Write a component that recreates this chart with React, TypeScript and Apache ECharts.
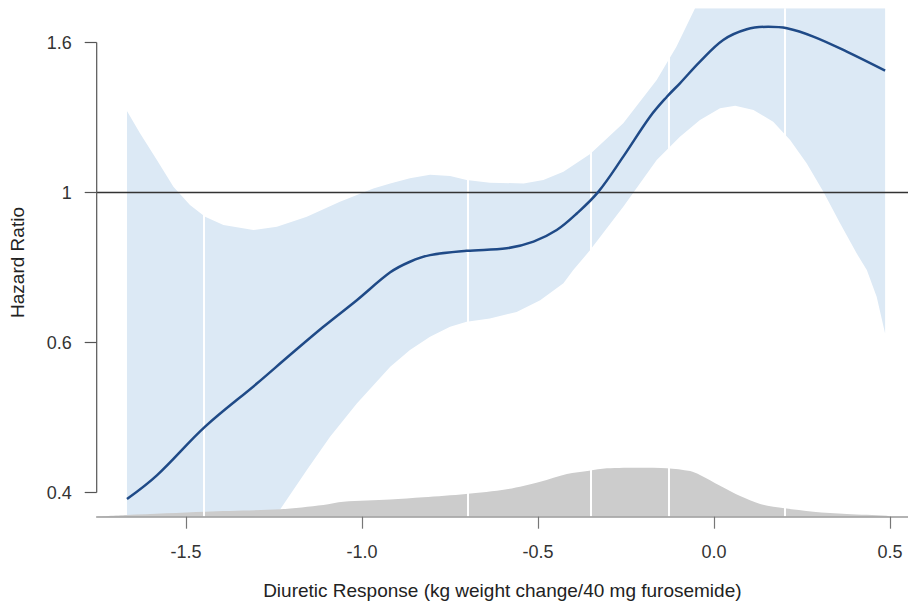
import React, { useEffect, useRef } from "react";
import * as echarts from "echarts";

// ---- axis ticks ----
const Y_TICKS = [0.4, 0.6, 1, 1.6];
const X_TICKS = [-1.5, -1.0, -0.5, 0.0, 0.5];
const X_MIN = -1.754;
const X_MAX = 0.551;
const Y_MIN_POS = -0.161;
const Y_MAX_POS = 3.228;
const REF_HR = 1;

// ---- fitted hazard ratio curve ----
const curveX = [-1.668, -1.583, -1.446, -1.299, -1.205, -1.110, -1.015, -0.920, -0.864, -0.807, -0.703, -0.589, -0.513, -0.447, -0.390, -0.329, -0.258, -0.182, -0.134, -0.097, -0.040, 0.026, 0.093, 0.154, 0.207, 0.282, 0.377, 0.486];
const curveHR = [0.393, 0.419, 0.478, 0.537, 0.580, 0.633, 0.693, 0.762, 0.790, 0.808, 0.820, 0.827, 0.846, 0.880, 0.931, 1.002, 1.119, 1.268, 1.350, 1.408, 1.507, 1.613, 1.668, 1.681, 1.673, 1.630, 1.555, 1.465];

// ---- confidence band ----
const upperX = [-1.668, -1.631, -1.583, -1.536, -1.489, -1.446, -1.394, -1.309, -1.242, -1.157, -1.063, -0.968, -0.920, -0.864, -0.807, -0.750, -0.703, -0.637, -0.541, -0.485, -0.428, -0.352, -0.258, -0.163, -0.107, -0.054, 0.0, 0.1, 0.2, 0.3, 0.4, 0.486];
const upperHR = [1.291, 1.204, 1.107, 1.018, 0.958, 0.921, 0.895, 0.880, 0.890, 0.921, 0.969, 1.013, 1.029, 1.046, 1.057, 1.053, 1.040, 1.031, 1.029, 1.040, 1.067, 1.128, 1.242, 1.423, 1.579, 1.781, 2.02, 2.44, 2.81, 3.24, 3.73, 4.29];
const lowerX = [-1.668, -1.583, -1.446, -1.309, -1.233, -1.157, -1.091, -1.015, -0.920, -0.864, -0.807, -0.750, -0.703, -0.637, -0.561, -0.494, -0.428, -0.400, -0.352, -0.258, -0.163, -0.097, -0.040, 0.017, 0.060, 0.112, 0.168, 0.216, 0.263, 0.311, 0.358, 0.405, 0.434, 0.462, 0.486];
const lowerHR = [0.180, 0.212, 0.271, 0.340, 0.382, 0.425, 0.465, 0.509, 0.562, 0.588, 0.612, 0.633, 0.644, 0.651, 0.666, 0.693, 0.734, 0.768, 0.822, 0.953, 1.107, 1.191, 1.255, 1.302, 1.312, 1.295, 1.248, 1.179, 1.096, 1.002, 0.901, 0.813, 0.768, 0.701, 0.619];

// ---- distribution of diuretic response (relative density) ----
const densityX = [-1.754, -1.668, -1.446, -1.233, -1.110, -1.053, -0.920, -0.826, -0.705, -0.589, -0.494, -0.418, -0.355, -0.305, -0.210, -0.134, -0.068, -0.040, 0.017, 0.074, 0.131, 0.200, 0.282, 0.377, 0.491, 0.500];
const densityValue = [0, 0.035, 0.102, 0.151, 0.239, 0.306, 0.351, 0.396, 0.463, 0.559, 0.714, 0.871, 0.939, 0.988, 1.0, 0.988, 0.93, 0.85, 0.63, 0.42, 0.26, 0.171, 0.102, 0.055, 0.020, 0];
const DENSITY_AXIS_MAX = 10.37;

// ---- quantile markers ----
const QUANTILES = [-1.446, -0.705, -0.355, -0.134, 0.202];

const FONT = "'Liberation Sans', Arial, Helvetica, sans-serif";

// piecewise log mapping onto evenly spaced tick positions
const LOG_TICKS = Y_TICKS.map((t) => Math.log(t));
function hrToPos(h: number): number {
  const L = Math.log(h);
  const i = L < LOG_TICKS[1] ? 0 : L < LOG_TICKS[2] ? 1 : 2;
  return i + (L - LOG_TICKS[i]) / (LOG_TICKS[i + 1] - LOG_TICKS[i]);
}

export default function App() {
  const ref = useRef<HTMLDivElement>(null);

  useEffect(() => {
    document.body.style.margin = "0";
    const el = ref.current!;
    const chart = echarts.init(el, null, { renderer: "svg" });

    const tickPos = Y_TICKS.map(hrToPos);
    const curve = curveX.map((x, i) => [x, hrToPos(curveHR[i])]);
    const band: number[][] = [
      ...upperX.map((x, i) => [x, hrToPos(upperHR[i])]),
      ...lowerX.map((x, i) => [x, hrToPos(lowerHR[i])]).reverse(),
    ];
    const density = densityX.map((x, i) => [x, densityValue[i]]);
    const refPos = hrToPos(REF_HR);

    const option: any = {
      animation: false,
      backgroundColor: "#ffffff",
      grid: {
        left: 96.7,
        right: 0,
        top: 8.3,
        bottom: 97.3,
        containLabel: false,
        outerBoundsMode: "none",
      },
      xAxis: {
        type: "value",
        min: X_MIN,
        max: X_MAX,
        z: 4,
        name: "Diuretic Response (kg weight change/40 mg furosemide)",
        nameLocation: "middle",
        nameGap: 64,
        nameTextStyle: { fontSize: 19, color: "#222", fontFamily: FONT },
        axisLine: { show: true, onZero: false, lineStyle: { color: "#9a9a9a", width: 1.5 } },
        axisTick: { show: true, length: 12, customValues: X_TICKS, lineStyle: { color: "#777", width: 1.2 } },
        axisLabel: {
          show: true,
          margin: 26,
          fontSize: 18,
          color: "#333",
          fontFamily: FONT,
          customValues: X_TICKS,
          formatter: (v: number) => v.toFixed(1),
        },
        splitLine: { show: false },
      },
      yAxis: [
        {
          type: "value",
          position: "left",
          min: Y_MIN_POS,
          max: Y_MAX_POS,
          name: "Hazard Ratio",
          nameLocation: "middle",
          nameGap: 70,
          nameTextStyle: { fontSize: 19, color: "#222", fontFamily: FONT },
          axisLine: { show: false, onZero: false },
          axisTick: { show: true, length: 12, customValues: tickPos, lineStyle: { color: "#555", width: 1.2 } },
          axisLabel: {
            show: true,
            margin: 25,
            fontSize: 18,
            color: "#333",
            fontFamily: FONT,
            customValues: tickPos,
            formatter: (v: number) => {
              let best = 0;
              tickPos.forEach((p, i) => {
                if (Math.abs(p - v) < Math.abs(tickPos[best] - v)) best = i;
              });
              return String(Y_TICKS[best]);
            },
          },
          splitLine: { show: false },
        },
        { type: "value", min: 0, max: DENSITY_AXIS_MAX, show: false },
      ],
      series: [
        {
          type: "custom",
          name: "95% CI",
          coordinateSystem: "cartesian2d",
          xAxisIndex: 0,
          yAxisIndex: 0,
          silent: true,
          z: 1,
          clip: true,
          data: band,
          encode: { x: 0, y: 1 },
          renderItem: (params: any, api: any) => {
            if (params.dataIndex !== 0) return null;
            const cs = params.coordSys;
            const pts = band.map((p) => api.coord(p));
            const clipped = echarts.graphic.clipPointsByRect(pts, {
              x: cs.x,
              y: cs.y,
              width: cs.width,
              height: cs.height,
            });
            return {
              type: "polygon",
              shape: { points: clipped },
              style: { fill: "#dce9f5", stroke: null },
            };
          },
        },
        {
          type: "line",
          name: "Density",
          xAxisIndex: 0,
          yAxisIndex: 1,
          data: density,
          smooth: 0.3,
          symbol: "none",
          silent: true,
          z: 2,
          lineStyle: { width: 0, color: "#cccccc" },
          areaStyle: { color: "#cccccc", opacity: 1 },
          markLine: {
            silent: true,
            z: 3,
            symbol: ["none", "none"],
            label: { show: false },
            lineStyle: { color: "#ffffff", width: 2, type: "solid" },
            emphasis: { disabled: true },
            data: QUANTILES.map((q) => ({ xAxis: q })),
          },
        },
        {
          type: "line",
          name: "Reference",
          data: [
            [X_MIN, refPos],
            [X_MAX, refPos],
          ],
          symbol: "none",
          silent: true,
          z: 4,
          lineStyle: { color: "#333333", width: 1.5 },
        },
        {
          type: "line",
          name: "Y axis",
          data: [
            [X_MIN, tickPos[0]],
            [X_MIN, tickPos[tickPos.length - 1]],
          ],
          symbol: "none",
          silent: true,
          clip: false,
          z: 6,
          lineStyle: { color: "#555555", width: 1.2 },
        },
        {
          type: "line",
          name: "Hazard Ratio",
          data: curve,
          smooth: 0.35,
          symbol: "none",
          silent: true,
          z: 10,
          lineStyle: { color: "#1f4a87", width: 2.5 },
        },
      ],
    };

    chart.setOption(option);
    return () => chart.dispose();
  }, []);

  return <div ref={ref} style={{ width: 908, height: 614 }} />;
}
